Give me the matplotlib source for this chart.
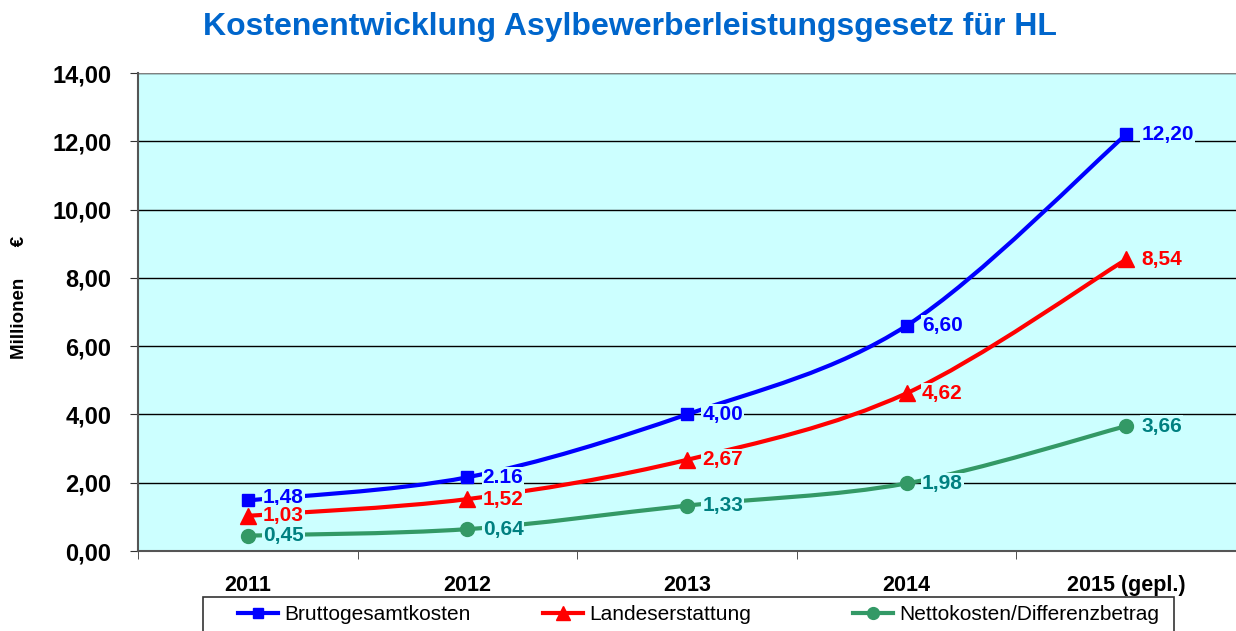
import matplotlib
matplotlib.use("Agg")
import matplotlib.pyplot as plt
from matplotlib.path import Path
from matplotlib.patches import PathPatch, Rectangle
from matplotlib.lines import Line2D
import numpy as np

plt.rcParams['font.family'] = ['Liberation Sans', 'DejaVu Sans']

categories = ["2011", "2012", "2013", "2014", "2015 (gepl.)"]
brutto = [1.48, 2.16, 4.00, 6.60, 12.20]
landes = [1.03, 1.52, 2.67, 4.62, 8.54]
netto = [0.45, 0.64, 1.33, 1.98, 3.66]
brutto_labels = ["1,48", "2.16", "4,00", "6,60", "12,20"]
landes_labels = ["1,03", "1,52", "2,67", "4,62", "8,54"]
netto_labels = ["0,45", "0,64", "1,33", "1,98", "3,66"]
yticks = [0, 2, 4, 6, 8, 10, 12, 14]
ytick_labels = ["0,00", "2,00", "4,00", "6,00", "8,00", "10,00", "12,00", "14,00"]

BG = "#CCFFFF"
W, H = 1236, 631
fig = plt.figure(figsize=(W / 100, H / 100), dpi=100)
ax = fig.add_axes([138 / W, 1 - 551 / H, 1 - 138 / W, (551 - 73) / H])
ax.set_facecolor(BG)


def smooth_path(xs, ys):
    pts = np.column_stack([xs, ys]).astype(float)
    n = len(pts)
    verts = [pts[0]]
    codes = [Path.MOVETO]
    for i in range(n - 1):
        p0 = pts[i - 1] if i > 0 else pts[i]
        p1 = pts[i]
        p2 = pts[i + 1]
        p3 = pts[i + 2] if i + 2 < n else pts[i + 1]
        c1 = p1 + (p2 - p0) / 6.0
        c2 = p2 - (p3 - p1) / 6.0
        verts += [c1, c2, p2]
        codes += [Path.CURVE4] * 3
    return Path(verts, codes)


x = np.arange(len(categories))
series = [
    (brutto, brutto_labels, "#0000FF", "#0000FF", "s", 9, "Bruttogesamtkosten", 2),
    (landes, landes_labels, "#FF0000", "#FF0000", "^", 12, "Landeserstattung", 0),
    (netto, netto_labels, "#339966", "#008080", "o", 10, "Nettokosten/Differenzbetrag", 0),
]

handles = []
for vals, labs, col, tcol, mk, ms, name, dy in series:
    patch = PathPatch(smooth_path(x, vals), facecolor="none", edgecolor=col,
                      lw=3, zorder=3, capstyle="round", joinstyle="round")
    ax.add_patch(patch)
    ax.plot(x, vals, linestyle="none", marker=mk, markersize=ms, color=col, zorder=4)
    for i, (xi, v, lab) in enumerate(zip(x, vals, labs)):
        ax.annotate(lab, (xi, v), xytext=(11, dy if i == 0 else 0), textcoords="offset points",
                    ha="left", va="center", fontsize=15, fontweight="bold",
                    color=tcol, zorder=5,
                    bbox=dict(boxstyle="square,pad=0.05", facecolor=BG, edgecolor="none"))
    handles.append(Line2D([], [], color=col, lw=3, marker=mk, markersize=ms * 0.85, label=name))

ax.set_xlim(-0.5, len(categories) - 0.5)
ax.set_ylim(0, 14)
ax.set_yticks(yticks)
ax.set_yticklabels(ytick_labels, fontsize=17, fontweight="bold")
ax.set_xticks(x)
ax.set_xticklabels(categories, fontsize=15.5, fontweight="bold")
ax.set_xticks(np.arange(len(categories) + 1) - 0.5, minor=True)
ax.tick_params(axis="x", which="major", length=0, pad=17)
ax.tick_params(axis="x", which="minor", length=6, direction="out", color="#333333")
ax.tick_params(axis="y", length=6, direction="out", pad=13, color="#333333")
ax.yaxis.grid(True, color="#000000", lw=1)
ax.set_axisbelow(True)
for s in ["top", "right"]:
    ax.spines[s].set_visible(False)
for s in ["left", "bottom"]:
    ax.spines[s].set_color("#555555")
    ax.spines[s].set_linewidth(1.5)
ax.axhline(14, color="#808080", lw=1.5, zorder=2)

fig.text(20 / W, 1 - 297 / H, "Millionen      €", rotation=90, ha="center", va="center",
         fontsize=13.5, fontweight="bold")
fig.text(630 / W, 1 - 27 / H, "Kostenentwicklung Asylbewerberleistungsgesetz für HL",
         ha="center", va="center", fontsize=23, fontweight="bold", color="#0066CC")

# legend frame (extends beyond the figure bottom, as in the reference)
frame = Rectangle((203 / W, 1 - 640 / H), (1174 - 203) / W, (640 - 597) / H,
                  transform=fig.transFigure, facecolor="white", edgecolor="#333333",
                  lw=1.2, zorder=1)
fig.patches.append(frame)
legend_x = [238, 543, 853]
for h, lx in zip(handles, legend_x):
    leg = fig.legend(handles=[h], loc="upper left",
                     bbox_to_anchor=(lx / W, 1 - 605 / H),
                     fontsize=15, frameon=False,
                     handlelength=1.9, handletextpad=0.3,
                     borderpad=0.0, borderaxespad=0)
    leg.set_zorder(2)

fig.savefig("out.png", dpi=100)
